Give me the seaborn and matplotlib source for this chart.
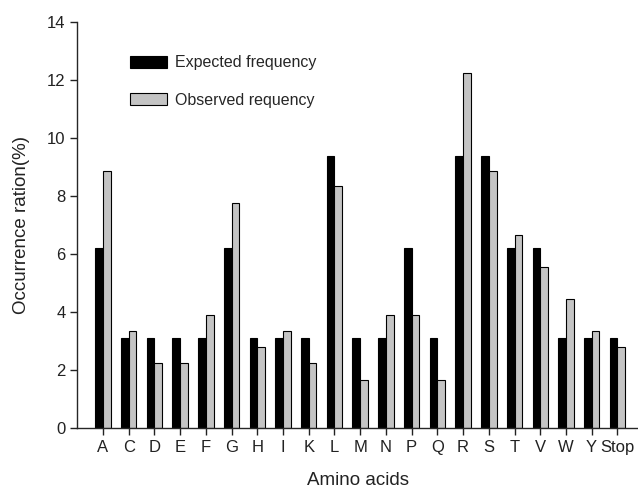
"""Expected vs observed amino acid occurrence, grouped bar chart."""
import matplotlib.pyplot as plt
import pandas as pd
import seaborn as sns

AMINO_ACIDS = ["A", "C", "D", "E", "F", "G", "H", "I", "K", "L", "M",
               "N", "P", "Q", "R", "S", "T", "V", "W", "Y", "Stop"]
EXPECTED = [6.2, 3.1, 3.1, 3.1, 3.1, 6.2, 3.1, 3.1, 3.1, 9.4, 3.1,
            3.1, 6.2, 3.1, 9.4, 9.4, 6.2, 6.2, 3.1, 3.1, 3.1]
OBSERVED = [8.85, 3.35, 2.25, 2.25, 3.9, 7.75, 2.8, 3.35, 2.25, 8.35, 1.65,
            3.9, 3.9, 1.65, 12.25, 8.85, 6.65, 5.55, 4.45, 3.35, 2.8]
SERIES = ["Expected frequency", "Observed requency"]
COLORS = ["#000000", "#c4c4c4"]


def main():
    df = pd.DataFrame({
        "aa": AMINO_ACIDS * 2,
        "value": EXPECTED + OBSERVED,
        "series": [SERIES[0]] * len(AMINO_ACIDS) + [SERIES[1]] * len(AMINO_ACIDS),
    })

    sns.set_theme(style="ticks")
    plt.rcParams["font.family"] = ["Liberation Sans", "DejaVu Sans"]

    fig = plt.figure(figsize=(6.38, 4.92), dpi=100)
    ax = fig.add_axes([0.121, 0.130, 0.879, 0.825])

    sns.barplot(data=df, x="aa", y="value", hue="series", palette=COLORS,
                width=0.6, edgecolor="black", linewidth=0.8, ax=ax)

    ax.set_ylim(0, 14)
    ax.set_xlim(-1.0, 20.8)
    ax.set_yticks(range(0, 15, 2))
    ax.set_xlabel("Amino acids", fontsize=13.5, color="#222222", labelpad=12)
    ax.set_ylabel("Occurrence ration(%)", fontsize=13.5, color="#222222", labelpad=12)
    ax.tick_params(axis="both", labelsize=12, colors="#222222", length=5, width=1)
    for side in ("top", "right"):
        ax.spines[side].set_visible(False)
    for side in ("left", "bottom"):
        ax.spines[side].set_linewidth(1)

    handles, labels = ax.get_legend_handles_labels()
    ax.legend(handles, labels, loc="upper left", bbox_to_anchor=(0.094, 0.918),
              frameon=False, fontsize=11.5, handlelength=2.3, handleheight=0.75,
              labelspacing=1.4, handletextpad=0.5, borderpad=0, borderaxespad=0)

    fig.savefig("out.png", dpi=100)
    plt.close(fig)


if __name__ == "__main__":
    main()
